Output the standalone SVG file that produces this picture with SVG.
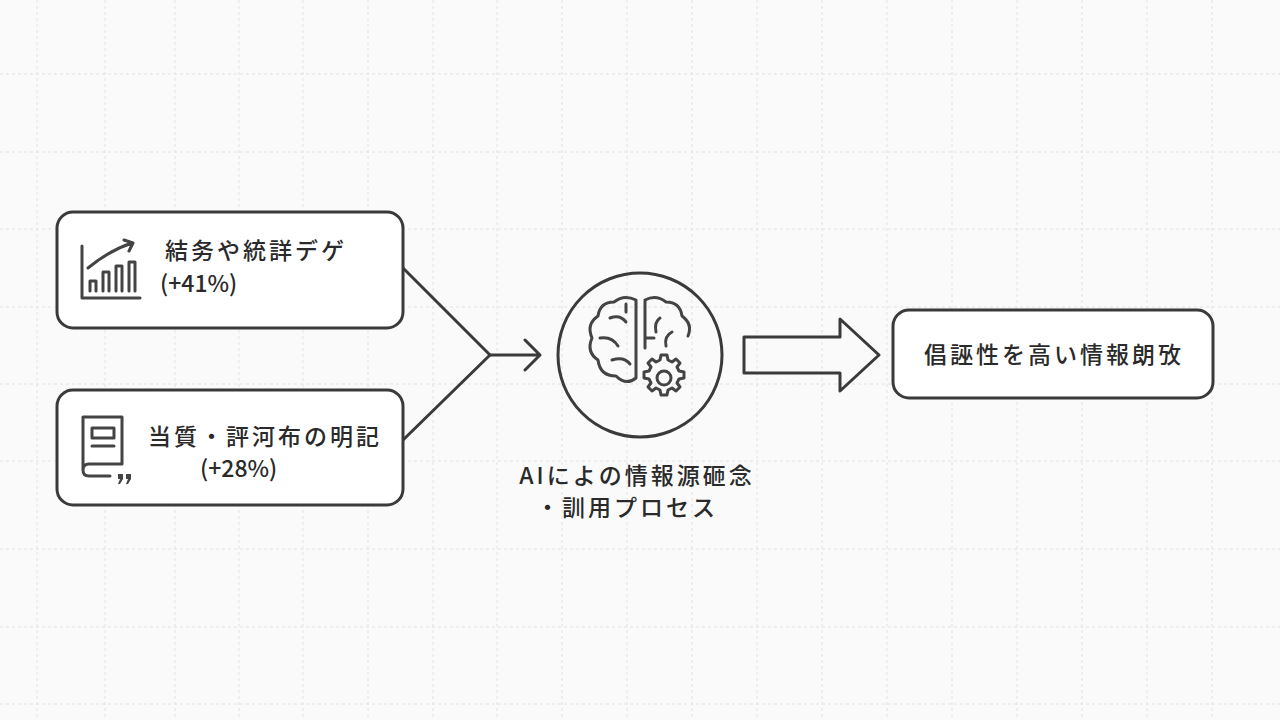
<svg xmlns="http://www.w3.org/2000/svg" width="1280" height="720" viewBox="0 0 1280 720">
<style>
.grid line{stroke:#e2e2e2;stroke-width:1;stroke-dasharray:3 3}
.box{fill:#fff;stroke:#3a3a3a;stroke-width:3}
.ln{fill:none;stroke:#3a3a3a;stroke-width:3;stroke-linecap:round;stroke-linejoin:round}
.ic{fill:none;stroke:#444;stroke-width:3;stroke-linecap:round;stroke-linejoin:round}
text{font-family:"Noto Sans CJK JP","Noto Sans",sans-serif;fill:#2a2a2a;font-size:23px;font-weight:500}
.j{letter-spacing:3px}
</style>
<rect width="1280" height="720" fill="#fafafa"/>
<g class="grid">
<line x1="37" y1="0" x2="37" y2="720"/><line x1="105" y1="0" x2="105" y2="720"/><line x1="175" y1="0" x2="175" y2="720"/><line x1="239" y1="0" x2="239" y2="720"/><line x1="303" y1="0" x2="303" y2="720"/><line x1="368" y1="0" x2="368" y2="720"/><line x1="433" y1="0" x2="433" y2="720"/><line x1="497" y1="0" x2="497" y2="720"/><line x1="562" y1="0" x2="562" y2="720"/><line x1="627" y1="0" x2="627" y2="720"/><line x1="692" y1="0" x2="692" y2="720"/><line x1="757" y1="0" x2="757" y2="720"/><line x1="822" y1="0" x2="822" y2="720"/><line x1="887" y1="0" x2="887" y2="720"/><line x1="952" y1="0" x2="952" y2="720"/><line x1="1017" y1="0" x2="1017" y2="720"/><line x1="1082" y1="0" x2="1082" y2="720"/><line x1="1147" y1="0" x2="1147" y2="720"/><line x1="1212" y1="0" x2="1212" y2="720"/>
<line x1="0" y1="74" x2="1280" y2="74"/><line x1="0" y1="152" x2="1280" y2="152"/><line x1="0" y1="229" x2="1280" y2="229"/><line x1="0" y1="307" x2="1280" y2="307"/><line x1="0" y1="384" x2="1280" y2="384"/><line x1="0" y1="461" x2="1280" y2="461"/><line x1="0" y1="549" x2="1280" y2="549"/><line x1="0" y1="627" x2="1280" y2="627"/><line x1="0" y1="704" x2="1280" y2="704"/>
</g>
<g id="connectors">
<path class="ln" d="M403 268 L490 355 L403 440"/>
<path class="ln" d="M490 355 L540 355 M525 340 L540 355 L525 370"/>
<path class="ln" d="M744 337 L840 337 L840 319 L879 355 L840 391 L840 373 L744 373 Z"/>
</g>
<g id="node-stats">
<rect class="box" x="57" y="212" width="346" height="116" rx="16"/>
<path class="ic" d="M82 246 V298 H140 M90 291 V281 H96 V291 M103 291 V272 H109 V291 M116 291 V266 H122 V291 M129 291 V262 H135 V291 M88 268 Q110 250 132 243 M124 240 L133 243 L129 251"/>
<text class="j" x="165" y="259">結务や統詳デゲ</text>
<text x="160" y="292">(+41%)</text>
</g>
<g id="node-book">
<rect class="box" x="57" y="390" width="346" height="115" rx="16"/>
<path class="ic" d="M83 417 H122 V464 H89 Q83 464 83 470 Q83 476 89 476 H110 M83 417 V470 M92 428 H114 V438 H92 Z M92 446 H114"/>
<path d="M118 474 h5 v5 l-3 5 h-2 l2 -5 h-2 Z M126 474 h5 v5 l-3 5 h-2 l2 -5 h-2 Z" fill="#444"/>
<text class="j" x="148" y="445">当質・評河布の明記</text>
<text x="200" y="477">(+28%)</text>
</g>
<g id="node-ai">
<circle class="ln" cx="640" cy="355" r="82"/>
<path class="ic" d="M636 300 Q624 294 614 302 Q600 302 598 316 Q586 324 592 338 Q586 352 598 360 Q600 376 616 376 Q626 386 636 378 Z M645 300 Q656 294 666 302 Q680 302 682 316 Q693 324 688 336 M645 300 V348 M610 318 Q620 314 626 322 M600 338 Q612 336 618 346 M612 360 Q624 356 630 364 M626 304 V312 M660 318 Q654 322 656 332 M672 332 Q664 336 666 346 M654 338 L646 338"/>
<path class="ic" d="M661 355 h6 l1 5 l4 2 l4 -3 l4 4 l-3 4 l2 4 l5 1 v6 l-5 1 l-2 4 l3 4 l-4 4 l-4 -3 l-4 2 l-1 5 h-6 l-1 -5 l-4 -2 l-4 3 l-4 -4 l3 -4 l-2 -4 l-5 -1 v-6 l5 -1 l2 -4 l-3 -4 l4 -4 l4 3 l4 -2 Z"/>
<circle class="ic" cx="664" cy="378" r="7"/>
<text class="j" x="637" y="484" text-anchor="middle">AIによの情報源砸念</text>
<text class="j" x="627" y="516" text-anchor="middle">・訓用プロセス</text>
</g>
<g id="node-result">
<rect class="box" x="893" y="310" width="320" height="88" rx="16"/>
<text class="j" x="1054" y="363" text-anchor="middle">倡誣性を高い情報朗攷</text>
</g>
</svg>
